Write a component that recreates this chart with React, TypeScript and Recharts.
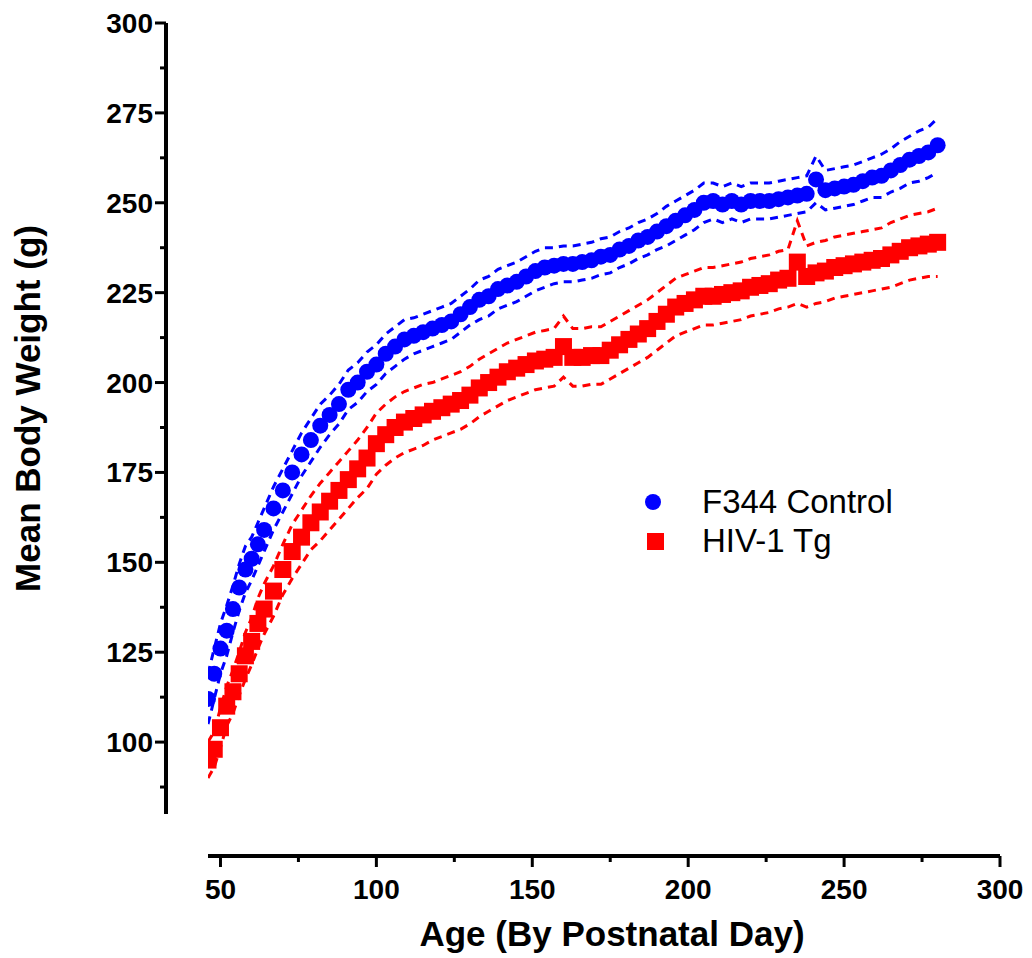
import React from 'react';
import { ComposedChart, Line, Scatter, XAxis, YAxis } from 'recharts';

const FONT = '"Liberation Sans", Arial, Helvetica, sans-serif';
const BLUE = '#0000ff';
const RED = '#ff0000';

// postnatal day of each weighing
const days = [
  46, 48, 50, 52, 54, 56, 58, 60, 62, 64,
  67, 70, 73, 76, 79, 82, 85, 88, 91, 94,
  97, 100, 103, 106, 109, 112, 115, 118, 121, 124,
  127, 130, 133, 136, 139, 142, 145, 148, 151, 154,
  157, 160, 163, 166, 169, 172, 175, 178, 181, 184,
  187, 190, 193, 196, 199, 202, 205, 208, 211, 214,
  217, 220, 223, 226, 229, 232, 235, 238, 241, 244,
  247, 250, 253, 256, 259, 262, 265, 268, 271, 274,
  277, 280,
];

// F344 Control mean weight (g)
const f344Mean = [
  112, 119, 126, 131, 137, 143, 148, 151, 155, 159,
  165, 170, 175, 180, 184, 188, 191, 194, 198, 200,
  203, 205, 208, 210, 212, 213, 214, 215, 216, 217,
  219, 221, 223, 224, 226, 227, 228, 229.5, 231, 232,
  232.5, 233, 233, 233.5, 234, 235, 235.5, 237, 238, 239.5,
  240.5, 242, 243.5, 245, 246.5, 248, 250, 250.5, 249.5, 250.5,
  249.5, 250.5, 250.5, 250.5, 251, 251.5, 252, 252.5, 256.5, 253.5,
  254, 254.5, 255, 256, 257, 257.5, 259, 260.5, 262, 263,
  264, 266,
];

// half width of the dashed band around the F344 mean
const f344Spread = [
  7, 7, 7, 7, 6.5, 6.5, 6.5, 6, 6, 6,
  6, 6, 6, 6, 6, 6, 5.5, 5.5, 5.5, 5.5,
  5.5, 5.5, 5.5, 5.5, 5.5, 5, 5, 5, 5, 5,
  5, 5, 5.5, 5.5, 5.5, 5.5, 5.5, 5.5, 5.5, 5.5,
  5, 5, 5, 5, 5, 5, 5, 5, 5, 5,
  5, 5, 5.5, 5.5, 5.5, 5.5, 5.5, 5, 5, 5,
  5, 5, 5, 5, 5, 5, 5, 5, 6.5, 5.5,
  5.5, 5.5, 5.5, 5.5, 5.5, 6, 6, 6.5, 6.5, 7,
  7, 7.5,
];

// HIV-1 Tg mean weight (g)
const hivMean = [
  95, 98, 104, 110, 114, 119, 124, 128, 133, 137,
  142, 148, 153, 157, 161, 164, 167, 170, 173, 176,
  179, 183, 185.5, 187.5, 189, 190, 191, 192, 193, 194,
  195, 196.5, 198.5, 200, 201.5, 203, 204, 205, 206, 206.5,
  207, 210, 207, 207, 207.5, 207.5, 209, 210.5, 212, 213.5,
  215, 217, 219, 221, 222, 223, 224, 224, 224.5, 225,
  225.5, 226.5, 227, 227.5, 228.5, 229, 233.5, 229.5, 230.5, 231,
  232, 232.5, 233, 233.5, 234, 234.5, 235.5, 236.5, 237.5, 238,
  238.5, 239,
];

const hivSpread = [
  5, 5, 5.5, 5.5, 6, 6, 6.5, 6.5, 7, 7,
  7, 7, 7.5, 7.5, 7.5, 8, 8, 8, 8, 8,
  8.5, 8.5, 8.5, 8.5, 8.5, 8.5, 8.5, 8, 8, 8,
  8, 8, 8, 8, 8, 8, 8, 8, 8, 8,
  8, 8.5, 8, 8, 8, 8, 8, 8, 8, 8,
  8, 8, 8, 8, 8, 8, 8, 8, 8, 8,
  8, 8, 8, 8, 8, 8, 11.5, 8.5, 8.5, 8.5,
  8.5, 8.5, 8.5, 8.5, 8.5, 8.5, 9, 9, 9, 9,
  9, 9.5,
];

const xTicks = [50, 75, 100, 125, 150, 175, 200, 225, 250, 275, 300];
const yTicks = [87.5, 100, 112.5, 125, 137.5, 150, 162.5, 175, 187.5, 200, 212.5, 225, 237.5, 250, 262.5, 275, 287.5, 300];

const data = days.map((day, i) => ({
  day,
  f344: f344Mean[i],
  f344Hi: f344Mean[i] + f344Spread[i],
  f344Lo: f344Mean[i] - f344Spread[i],
  hiv: hivMean[i],
  hivHi: hivMean[i] + hivSpread[i],
  hivLo: hivMean[i] - hivSpread[i],
}));

// axes are drawn offset from the plot area, Prism style
const X_OFFSET = 42;
const Y_OFFSET = 42;

const XTick = (props: any) => {
  const { x, y, payload } = props;
  const major = payload.value % 50 === 0;
  const y0 = y + X_OFFSET;
  return (
    <g>
      <line x1={x} x2={x} y1={y0} y2={y0 + (major ? 11 : 6)} stroke="#000" strokeWidth={3} />
      {major && (
        <text x={x} y={y0 + 43} textAnchor="middle" fontSize={28} fontWeight="bold" fontFamily={FONT} fill="#000">
          {payload.value}
        </text>
      )}
    </g>
  );
};

const YTick = (props: any) => {
  const { x, y, payload } = props;
  const major = payload.value % 25 === 0;
  const x0 = x - Y_OFFSET;
  return (
    <g>
      <line x1={x0 - (major ? 11 : 6)} x2={x0} y1={y} y2={y} stroke="#000" strokeWidth={3} />
      {major && (
        <text x={x0 - 13} y={y + 10} textAnchor="end" fontSize={28} fontWeight="bold" fontFamily={FONT} fill="#000">
          {payload.value}
        </text>
      )}
    </g>
  );
};

const circleShape = (p: any) => <circle cx={p.cx} cy={p.cy} r={8} fill={BLUE} />;
const squareShape = (p: any) => <rect x={p.cx - 8.5} y={p.cy - 8.5} width={17} height={17} fill={RED} />;

const dashed = { strokeWidth: 3, strokeDasharray: '8 6', dot: false, isAnimationActive: false, legendType: 'none' as const };

export default function App() {
  return (
    <div style={{ position: 'absolute', left: 0, top: 0, width: 1032, height: 958, background: '#fff' }}>
      <ComposedChart width={1032} height={958} data={data} margin={{ top: 23, right: 32, bottom: 0, left: 0 }}>
        <XAxis
          type="number"
          dataKey="day"
          domain={[46, 300]}
          ticks={xTicks}
          interval={0}
          allowDataOverflow
          height={144}
          tickSize={0}
          tickMargin={0}
          tickLine={false}
          tick={XTick}
          axisLine={{ stroke: '#000', strokeWidth: 4, transform: `translate(0,${X_OFFSET})` }}
          label={(p: any) => (
            <text
              x={p.viewBox.x + p.viewBox.width / 2 + 8}
              y={p.viewBox.y + 132}
              textAnchor="middle"
              fontSize={35}
              fontWeight="bold"
              fontFamily={FONT}
              fill="#000"
            >
              Age (By Postnatal Day)
            </text>
          )}
        />
        <YAxis
          type="number"
          domain={[80, 300]}
          ticks={yTicks}
          interval={0}
          allowDataOverflow
          width={208}
          tickSize={0}
          tickMargin={0}
          tickLine={false}
          tick={YTick}
          axisLine={{ stroke: '#000', strokeWidth: 4, transform: `translate(-${Y_OFFSET},0)` }}
          label={(p: any) => (
            <text
              transform={`translate(40,${p.viewBox.y + p.viewBox.height / 2 - 10}) rotate(-90)`}
              textAnchor="middle"
              fontSize={35}
              fontWeight="bold"
              fontFamily={FONT}
              fill="#000"
            >
              Mean Body Weight (g)
            </text>
          )}
        />
        <Line dataKey="f344Hi" stroke={BLUE} {...dashed} />
        <Line dataKey="f344Lo" stroke={BLUE} {...dashed} />
        <Line dataKey="hivHi" stroke={RED} {...dashed} />
        <Line dataKey="hivLo" stroke={RED} {...dashed} />
        <Scatter dataKey="f344" name="F344 Control" fill={BLUE} shape={circleShape} isAnimationActive={false} />
        <Scatter dataKey="hiv" name="HIV-1 Tg" fill={RED} shape={squareShape} isAnimationActive={false} />
      </ComposedChart>
      {/* legend sits inside the plot area, drawn apart so it does not shrink the chart */}
      <svg width={300} height={100} style={{ position: 'absolute', left: 640, top: 470 }}>
        <circle cx={13} cy={32} r={8} fill={BLUE} />
        <text x={62} y={43} fontSize={33} fontFamily={FONT} fill="#000">F344 Control</text>
        <rect x={7} y={63} width={17} height={17} fill={RED} />
        <text x={62} y={82} fontSize={33} fontFamily={FONT} fill="#000">HIV-1 Tg</text>
      </svg>
    </div>
  );
}
